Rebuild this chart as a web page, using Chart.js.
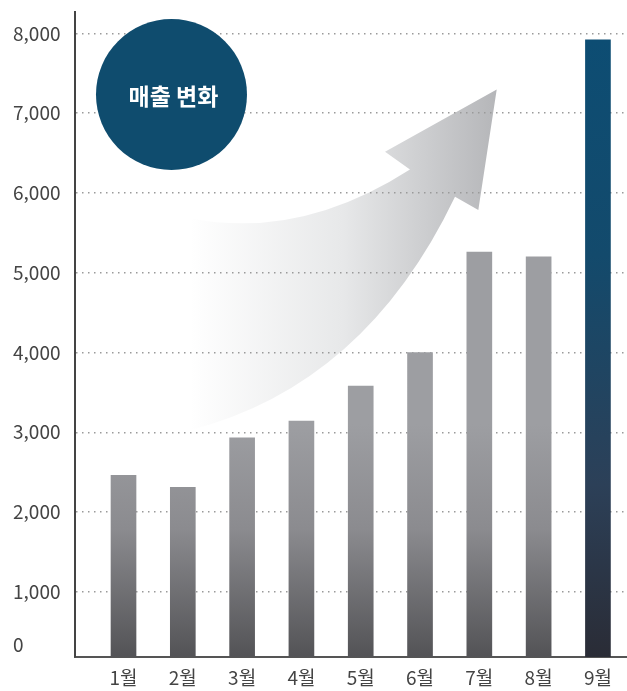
<!DOCTYPE html>
<html lang="ko">
<head>
<meta charset="utf-8">
<script src="https://cdn.jsdelivr.net/npm/chart.js@4"></script>
<style>
  html, body { margin: 0; padding: 0; background: #ffffff; }
  #wrap { width: 627px; height: 691px; position: relative; }
</style>
</head>
<body>
<div id="wrap"><canvas id="c"></canvas></div>
<script>
// ---- data ----
const months = [1, 2, 3, 4, 5, 6, 7, 8, 9];
const monthLabels = ['1월', '2월', '3월', '4월', '5월', '6월', '7월', '8월', '9월'];
const sales = [2460, 2310, 2930, 3140, 3580, 4000, 5260, 5200, 7920];
const yTickValues = [1000, 2000, 3000, 4000, 5000, 6000, 7000, 8000];
const zeroLabelValue = 330;
const badgeText = '매출 변화';

const FONT = "'Noto Sans CJK KR', 'Noto Sans', sans-serif";

function barColor(ctx) {
  const chart = ctx.chart;
  const area = chart.chartArea;
  if (!area) return '#9c9da1';
  const y = chart.scales.y;
  const c = chart.ctx;
  if (ctx.dataIndex === sales.length - 1) {
    const top = y.getPixelForValue(sales[ctx.dataIndex]);
    const g = c.createLinearGradient(0, top, 0, area.bottom);
    g.addColorStop(0, '#0d4d73');
    g.addColorStop(0.35, '#134a6c');
    g.addColorStop(0.72, '#2c4058');
    g.addColorStop(1, '#2a2c36');
    return g;
  }
  const g = c.createLinearGradient(0, y.getPixelForValue(3100), 0, area.bottom);
  g.addColorStop(0, '#9d9ea2');
  g.addColorStop(0.45, '#8b8b8f');
  g.addColorStop(1, '#535356');
  return g;
}

const arrowPlugin = {
  id: 'arrow',
  beforeDraw(chart) {
    const xs = chart.scales.x, ys = chart.scales.y, c = chart.ctx;
    const P = (xv, yv) => [xs.getPixelForValue(xv), ys.getPixelForValue(yv)];
    const tip = P(7.293, 7298), lb = P(5.41, 6516), notch = P(5.83, 6295);
    const uc = P(3.976, 5409), ul = P(2.121, 5684), ll = P(2.121, 3026);
    const lc = P(5.072, 3590), nr = P(6.59, 5952), rb = P(6.983, 5785);
    c.save();
    const g = c.createLinearGradient(ul[0], 0, tip[0], 0);
    g.addColorStop(0, 'rgba(255,255,255,1)');
    g.addColorStop(0.5, '#e7e8e9');
    g.addColorStop(1, '#b5b6b9');
    c.fillStyle = g;
    c.beginPath();
    c.moveTo(tip[0], tip[1]);
    c.lineTo(lb[0], lb[1]);
    c.lineTo(notch[0], notch[1]);
    c.quadraticCurveTo(uc[0], uc[1], ul[0], ul[1]);
    c.lineTo(ll[0], ll[1]);
    c.quadraticCurveTo(lc[0], lc[1], nr[0], nr[1]);
    c.lineTo(rb[0], rb[1]);
    c.closePath();
    c.fill();
    c.restore();
  }
};

const badgePlugin = {
  id: 'badge',
  afterDatasetsDraw(chart) {
    const xs = chart.scales.x, ys = chart.scales.y, c = chart.ctx;
    const cx = xs.getPixelForValue(1.809), cy = ys.getPixelForValue(7233);
    c.save();
    c.fillStyle = '#0f4c6e';
    c.beginPath();
    c.arc(cx, cy, 75.5, 0, Math.PI * 2);
    c.fill();
    c.fillStyle = '#ffffff';
    c.font = "bold 23px " + FONT;
    c.textAlign = 'center';
    c.textBaseline = 'middle';
    c.fillText(badgeText, cx + 2, cy + 2);
    c.restore();
  }
};

new Chart(document.getElementById('c'), {
  type: 'bar',
  data: {
    datasets: [{
      data: months.map((m, i) => ({ x: m, y: sales[i] })),
      backgroundColor: barColor,
      borderWidth: 0,
      barThickness: 25
    }]
  },
  plugins: [arrowPlugin, badgePlugin],
  options: {
    responsive: true,
    maintainAspectRatio: false,
    animation: false,
    layout: { padding: { left: 13, top: 12, right: 0, bottom: 0 } },
    plugins: { legend: { display: false }, tooltip: { enabled: false } },
    scales: {
      x: {
        type: 'linear',
        offset: false,
        min: 0.182,
        max: 9.49,
        afterBuildTicks(scale) { scale.ticks = months.map(v => ({ value: v })); },
        afterFit(scale) { scale.height = 34; },
        grid: { display: true, offset: false, color: 'rgba(0,0,0,0)', drawTicks: false },
        border: { display: true, color: '#555555', width: 2 },
        ticks: {
          padding: 9,
          color: '#444444',
          font: { family: FONT, size: 19 },
          callback: (v) => monthLabels[months.indexOf(v)] || ''
        }
      },
      y: {
        min: 183,
        max: 8268,
        afterBuildTicks(scale) {
          scale.ticks = [{ value: zeroLabelValue }].concat(yTickValues.map(v => ({ value: v })));
        },
        afterFit(scale) { scale.width = 62; },
        grid: {
          drawTicks: false,
          color: (ctx) => (ctx.tick && ctx.tick.value === zeroLabelValue) ? 'rgba(0,0,0,0)' : '#9a9a9a',
          lineWidth: 1.5
        },
        border: { display: true, color: '#444444', width: 2, dash: [1.5, 4.5] },
        ticks: {
          crossAlign: 'far',
          padding: 0,
          color: '#444444',
          font: { family: FONT, size: 19 },
          callback: (v) => v === zeroLabelValue ? '0' : v.toLocaleString('en-US')
        }
      }
    }
  }
});
</script>
</body>
</html>
